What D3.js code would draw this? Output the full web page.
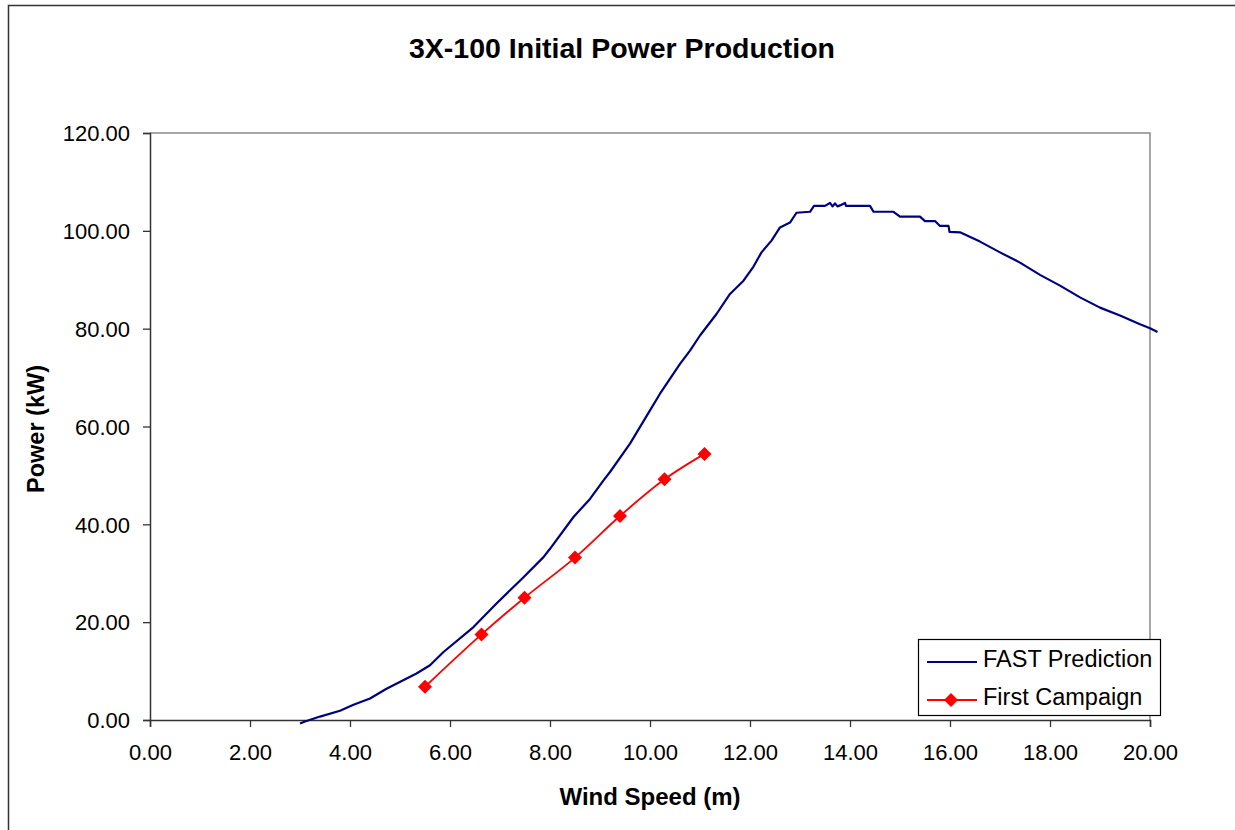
<!DOCTYPE html>
<html>
<head>
<meta charset="utf-8">
<script src="https://cdn.jsdelivr.net/npm/d3@7"></script>
<style>
  body { margin: 0; background: #fff; }
  svg { display: block; font-family: "Liberation Sans", Arial, sans-serif; }
</style>
</head>
<body>
<svg id="chart" width="1235" height="830"></svg>
<script>
// FAST prediction curve
var fastSpeed = [3.00, 3.10, 3.40, 3.80, 4.07, 4.40, 4.73, 5.33, 5.60, 5.87, 6.47, 6.93, 7.47, 7.87, 8.00,
                 8.47, 8.80, 9.07, 9.20, 9.60, 10.00, 10.20, 10.60, 10.80, 11.00, 11.33, 11.60, 11.87,
                 12.07, 12.23, 12.43, 12.60, 12.80, 12.93, 13.20, 13.28, 13.50, 13.60, 13.65, 13.70,
                 13.75, 13.80, 13.90, 13.92, 14.40, 14.47, 14.87, 15.00, 15.40, 15.50, 15.70, 15.80,
                 15.97, 15.99, 16.20, 16.60, 17.00, 17.40, 17.80, 18.20, 18.60, 19.00, 19.40, 19.80,
                 20.00, 20.15];
var fastPower = [-0.7, -0.3, 0.7, 1.9, 3.1, 4.4, 6.4, 9.5, 11.2, 13.9, 19.0, 23.8, 29.2, 33.3, 35.0,
                 41.5, 45.2, 49.0, 50.7, 56.5, 63.3, 66.7, 72.8, 75.5, 78.6, 83.0, 87.1, 89.8,
                 92.7, 95.6, 98.0, 100.7, 101.7, 103.7, 103.9, 105.1, 105.1, 105.7, 105.0, 105.6,
                 105.0, 105.2, 105.7, 105.1, 105.1, 103.9, 103.9, 102.9, 102.9, 102.0, 102.0, 101.0,
                 101.0, 99.8, 99.7, 97.8, 95.6, 93.5, 91.0, 88.8, 86.4, 84.3, 82.7, 80.9,
                 80.1, 79.3];

// measured points, first campaign
var campSpeed = [5.50, 6.63, 7.49, 8.50, 9.40, 10.29, 11.09];
var campPower = [6.8, 17.5, 25.0, 33.2, 41.7, 49.2, 54.4];

var xTicks = [0, 2, 4, 6, 8, 10, 12, 14, 16, 18, 20];
var yTicks = [0, 20, 40, 60, 80, 100, 120];
var seriesNames = ["FAST Prediction", "First Campaign"];

var svg = d3.select("#chart");

var plotLeft = 150, plotRight = 1150, plotTop = 133, plotBottom = 720;

var x = d3.scaleLinear().domain([0, 20]).range([plotLeft, plotRight]);
var y = d3.scaleLinear().domain([0, 120]).range([plotBottom, plotTop]);

// outer chart frame
svg.append("rect")
    .attr("x", 8.5).attr("y", 5.5)
    .attr("width", 1300).attr("height", 900)
    .attr("fill", "none")
    .attr("stroke", "#333").attr("stroke-width", 1.5);

// plot area border (top/right)
svg.append("path")
    .attr("d", "M" + plotLeft + "," + plotTop + "H" + plotRight + "V" + plotBottom)
    .attr("fill", "none")
    .attr("stroke", "#8a8a8a").attr("stroke-width", 1.5);

var fmt = d3.format(".2f");

var xAxis = svg.append("g")
    .attr("transform", "translate(0," + plotBottom + ")")
    .call(d3.axisBottom(x).tickValues(xTicks).tickFormat(fmt).tickSize(7).tickPadding(17));

var yAxis = svg.append("g")
    .attr("transform", "translate(" + plotLeft + ",0)")
    .call(d3.axisLeft(y).tickValues(yTicks).tickFormat(fmt).tickSize(7).tickPadding(13));

[xAxis, yAxis].forEach(function(a)
{
    a.select(".domain").attr("stroke", "#333").attr("stroke-width", 1.5);
    a.selectAll(".tick line").attr("stroke", "#333").attr("stroke-width", 1.3);
    a.selectAll(".tick text")
	.attr("fill", "#000")
	.style("font-size", "22px")
	.style("font-family", "Liberation Sans, Arial, sans-serif");
});
yAxis.selectAll(".tick text").attr("dy", "0.35em");
xAxis.selectAll(".tick text").attr("dy", "0.71em");

// title and axis titles
svg.append("text")
    .attr("x", 622).attr("y", 58)
    .attr("text-anchor", "middle")
    .style("font-size", "28.5px").style("font-weight", "bold")
    .text("3X-100 Initial Power Production");

svg.append("text")
    .attr("x", 650).attr("y", 805)
    .attr("text-anchor", "middle")
    .style("font-size", "24px").style("font-weight", "bold")
    .text("Wind Speed (m)");

svg.append("text")
    .attr("transform", "translate(44,429) rotate(-90)")
    .attr("text-anchor", "middle")
    .style("font-size", "23.5px").style("font-weight", "bold")
    .text("Power (kW)");

// lines
var fastData = fastSpeed.map(function(d, i) { return [d, fastPower[i]]; });
var campData = campSpeed.map(function(d, i) { return [d, campPower[i]]; });

var line = d3.line()
    .x(function(d) { return x(d[0]); })
    .y(function(d) { return y(d[1]); });

svg.append("path")
    .datum(fastData)
    .attr("d", line)
    .attr("fill", "none")
    .attr("stroke", "#000080").attr("stroke-width", 2.2)
    .attr("stroke-linejoin", "round");

svg.append("path")
    .datum(campData)
    .attr("d", line.curve(d3.curveCatmullRom))
    .attr("fill", "none")
    .attr("stroke", "#ff0000").attr("stroke-width", 1.8);

var diamond = d3.symbol().type(d3.symbolSquare).size(98);

svg.append("g").selectAll("path")
    .data(campData)
    .enter().append("path")
    .attr("d", diamond)
    .attr("transform", function(d) { return "translate(" + x(d[0]) + "," + y(d[1]) + ") rotate(45)"; })
    .attr("fill", "#ff0000");

// legend
var lg = svg.append("g");
lg.append("rect")
    .attr("x", 918.5).attr("y", 639.5)
    .attr("width", 242).attr("height", 76)
    .attr("fill", "#fff")
    .attr("stroke", "#000").attr("stroke-width", 1.2);

var legendRows = [
    { name: seriesNames[0], color: "#000080", marker: false, y: 662 },
    { name: seriesNames[1], color: "#ff0000", marker: true, y: 700 }
];

legendRows.forEach(function(r)
{
    lg.append("line")
	.attr("x1", 927).attr("x2", 977)
	.attr("y1", r.y).attr("y2", r.y)
	.attr("stroke", r.color).attr("stroke-width", r.marker ? 1.8 : 2);
    if (r.marker)
    {
	lg.append("path")
	    .attr("d", diamond)
	    .attr("transform", "translate(951," + r.y + ") rotate(45)")
	    .attr("fill", r.color);
    }
    lg.append("text")
	.attr("x", 983).attr("y", r.y + 4.5)
	.style("font-size", "23.5px")
	.text(r.name);
});
</script>
</body>
</html>
